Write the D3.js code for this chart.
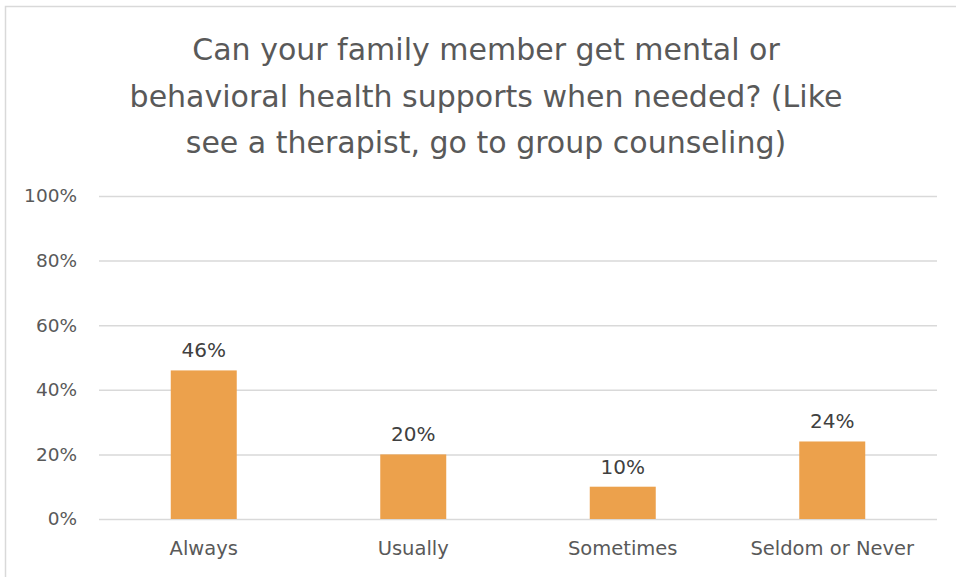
<!DOCTYPE html>
<html>
<head>
<meta charset="utf-8">
<script src="https://cdn.jsdelivr.net/npm/d3@7"></script>
<style>
body { margin:0; background:#fff; }
text { font-family: "DejaVu Sans", sans-serif; }
</style>
</head>
<body>
<svg id="chart"></svg>
<script>
var categories = ["Always","Usually","Sometimes","Seldom or Never"];
var values = [0.46,0.20,0.10,0.24];
var valueLabels = ["46%","20%","10%","24%"];
var ticks = [0,0.2,0.4,0.6,0.8,1.0];
var titleLines = ["Can your family member get mental or",
                  "behavioral health supports when needed? (Like",
                  "see a therapist, go to group counseling)"];

var screen = {width:956, height:577};
var plot = {left:99, right:937, top:196, bottom:519};
var fontFamily = "'DejaVu Sans', sans-serif";

var svg = d3.select("#chart")
            .attr("width",screen.width)
            .attr("height",screen.height);

// chart border
svg.append("rect")
   .attr("x",5.5).attr("y",6.5)
   .attr("width",screen.width+10).attr("height",screen.height+10)
   .attr("fill","white")
   .attr("stroke","#d9d9d9")
   .attr("stroke-width",1.5);

var xScale = d3.scaleBand()
               .domain(categories)
               .range([plot.left,plot.right])
               .paddingInner(0.685)
               .paddingOuter(0.3425);

var yScale = d3.scaleLinear()
               .domain([0,1])
               .range([plot.bottom,plot.top]);

// title
svg.append("g")
   .selectAll("text")
   .data(titleLines)
   .enter()
   .append("text")
   .attr("x",486)
   .attr("y",function(d,i){return 60+i*46.5;})
   .attr("text-anchor","middle")
   .attr("font-size","30px")
   .attr("fill","#595959")
   .text(function(d){return d;});

// gridlines + y axis
var yAxis = d3.axisLeft(yScale)
              .tickValues(ticks)
              .tickFormat(d3.format(".0%"))
              .tickSize(-(plot.right-plot.left))
              .tickPadding(22);

svg.append("g")
   .attr("transform","translate("+plot.left+",0)")
   .call(yAxis)
   .call(function(g){
     g.select(".domain").remove();
     g.selectAll(".tick line").attr("stroke","#d9d9d9").attr("stroke-width",1.5);
     g.selectAll(".tick text").attr("font-size","18.5px").attr("fill","#595959")
      .attr("font-family",fontFamily);
   });

// bars
svg.append("g")
   .selectAll("rect")
   .data(values)
   .enter()
   .append("rect")
   .attr("x",function(d,i){return xScale(categories[i]);})
   .attr("width",xScale.bandwidth())
   .attr("y",function(d){return yScale(d);})
   .attr("height",function(d){return yScale(0)-yScale(d);})
   .attr("fill","#eca14c");

// data labels
svg.append("g")
   .selectAll("text")
   .data(values)
   .enter()
   .append("text")
   .attr("x",function(d,i){return xScale(categories[i])+xScale.bandwidth()/2;})
   .attr("y",function(d){return yScale(d)-13;})
   .attr("text-anchor","middle")
   .attr("font-size","20px")
   .attr("fill","#404040")
   .text(function(d,i){return valueLabels[i];});

// x axis labels
var xAxis = d3.axisBottom(xScale).tickSize(0).tickPadding(22);
svg.append("g")
   .attr("transform","translate(0,"+plot.bottom+")")
   .call(xAxis)
   .call(function(g){
     g.select(".domain").remove();
     g.selectAll(".tick text").attr("font-size","19.5px").attr("fill","#595959")
      .attr("font-family",fontFamily);
   });
</script>
</body>
</html>
